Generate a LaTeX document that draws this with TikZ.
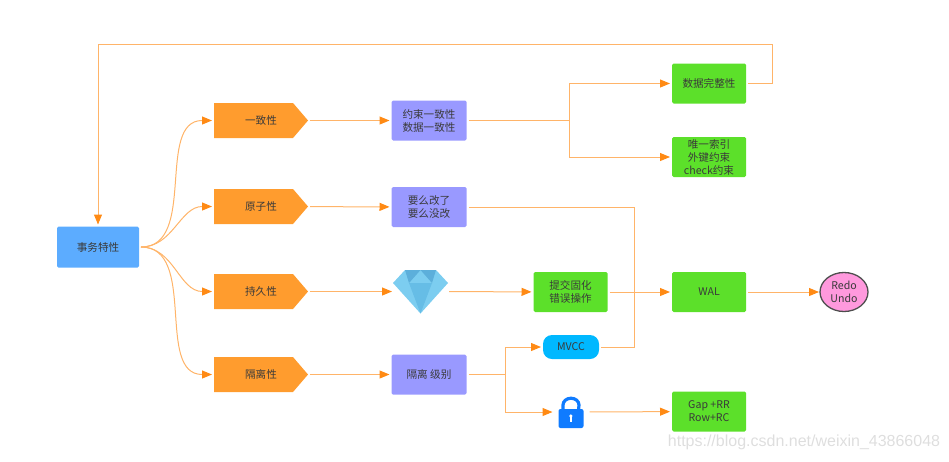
\documentclass[tikz,border=0pt]{standalone}
\usepackage{fontspec}
\setmainfont{Noto Sans CJK SC}
\usetikzlibrary{arrows.meta,shapes.geometric}
\definecolor{linea}{HTML}{FFB469}
\definecolor{punta}{HTML}{FF8A14}
\definecolor{blu}{HTML}{5CACFF}
\definecolor{arancio}{HTML}{FF9C2E}
\definecolor{viola}{HTML}{9999FF}
\definecolor{verde}{HTML}{5CE02A}
\definecolor{ciano}{HTML}{00B8FF}
\definecolor{rosa}{HTML}{FF99DD}
\definecolor{testo}{HTML}{3A3A3A}
\definecolor{gemlight}{HTML}{7CCDF0}
\definecolor{gemmid}{HTML}{66BDE6}
\definecolor{gemdark}{HTML}{5CAFDB}
\definecolor{lockblue}{HTML}{0F7BFF}
\tikzset{
	box/.style={rectangle, rounded corners=1.5pt, fill=#1, text=testo, align=center, font=\fontsize{10.6}{13}\selectfont, inner sep=0pt, outer sep=2pt},
	bluebox/.style={box=blu, minimum width=82pt, minimum height=41pt},
	purplebox/.style={box=viola, minimum width=75pt, minimum height=40pt},
	greenbox/.style={box=verde, minimum width=74pt, minimum height=40pt},
	tagbox/.style={rectangle, text=testo, font=\fontsize{10.6}{13}\selectfont, inner sep=0pt, outer sep=2pt, minimum width=94pt, minimum height=35pt,
		path picture={\fill[arancio] (path picture bounding box.north west) -- ([xshift=-15pt]path picture bounding box.north east) -- (path picture bounding box.east) -- ([xshift=-15pt]path picture bounding box.south east) -- (path picture bounding box.south west) -- cycle;}},
	link/.style={draw=linea, line width=1pt},
	arrow/.style={link, -{Triangle[length=10pt, width=8pt, color=punta]}}
}
\begin{document}
\begin{tikzpicture}[x=1pt, y=-1pt]
	\useasboundingbox (0,0) rectangle (949,461);
	% left column
	\node[bluebox] (acid) at (98,247) {事务特性};
	\node[tagbox] (cons) at (261,120.5) {一致性};
	\node[tagbox] (atom) at (261,206.5) {原子性};
	\node[tagbox] (dura) at (261,291.5) {持久性};
	\node[tagbox] (isol) at (261,374.5) {隔离性};

	% middle column
	\node[purplebox] (rule) at (429,120.5) {约束一致性\\数据一致性};
	\node[purplebox] (undo) at (429,207) {要么改了\\要么没改};
	\node[purplebox] (level) at (429,374.5) {隔离 级别};
	\node[minimum width=55pt, minimum height=43pt, inner sep=0pt, outer sep=1pt] (gem) at (420.5,291.5) {};
	\node[greenbox] (commit) at (570.5,292) {提交固化\\错误操作};
	\node[box=ciano, rounded corners=9pt, minimum width=56pt, minimum height=24pt] (mvcc) at (571,347) {MVCC};
	\node[minimum width=25pt, minimum height=31pt, inner sep=0pt, outer sep=6pt] (lock) at (571,412) {};

	% right column
	\node[greenbox] (whole) at (709,83.5) {数据完整性};
	\node[greenbox] (index) at (709,157) {唯一索引\\外键约束\\check约束};
	\node[greenbox] (wal) at (709,292) {WAL};
	\node[greenbox] (gap) at (709,411.5) {Gap +RR\\Row+RC};
	\node[ellipse, draw=testo!90, line width=1.3pt, fill=rosa, text=testo, align=center, font=\fontsize{10.6}{13}\selectfont, minimum width=48pt, minimum height=39pt, inner sep=0pt, outer sep=1pt] (log) at (844,292) {Redo\\Undo};
	\node[text=black!13, font=\fontsize{16}{18}\selectfont\fontspec{Liberation Sans}] (mark) at (804,442) {https://blog.csdn.net/weixin\_43866048};

	% diamond
	\fill[gemlight] (405,270) -- (436,270) -- (448,283) -- (420.5,313.5) -- (393,283) -- cycle;
	\fill[gemmid] (409,283) -- (432,283) -- (420.5,313.5) -- cycle;
	\fill[gemdark] (405,270) -- (420.5,270) -- (409,283) -- cycle;
	\fill[gemdark] (436,270) -- (420.5,270) -- (432,283) -- cycle;

	% lock
	\fill[lockblue, rounded corners=2pt] (558.5,409) rectangle (583.5,428);
	\draw[lockblue, line width=3.2pt] (563,410) -- (563,405) arc[start angle=180, end angle=0, x radius=8, y radius=-6.8] -- (578.5,410);
	\fill[white] (570.8,416) circle (1.8pt);
	\fill[white] (570,416) rectangle (571.6,422);

	% links from the blue box
	\draw[arrow] (acid.east) to[out=0, in=180] (cons.west);
	\draw[arrow] (acid.east) to[out=0, in=180] (atom.west);
	\draw[arrow] (acid.east) to[out=0, in=180] (dura.west);
	\draw[arrow] (acid.east) to[out=0, in=180] (isol.west);

	% straight links
	\draw[arrow] (cons) -- (rule);
	\draw[arrow] (atom) -- (undo);
	\draw[arrow] (dura) -- (gem);
	\draw[arrow] (isol) -- (level);
	\draw[arrow] (gem) -- (commit);
	\draw[arrow] (commit) -- (wal);
	\draw[arrow] (wal) -- (log);
	\draw[arrow] (lock) -- (gap);

	% elbows
	\coordinate (fork1) at (569,120.5);
	\coordinate (fork2) at (505,374.5);
	\draw[link] (rule) -- (fork1);
	\draw[arrow] (fork1) |- (whole);
	\draw[arrow] (fork1) |- (index);
	\draw[link] (level) -- (fork2);
	\draw[arrow] (fork2) |- (mvcc);
	\draw[arrow] (fork2) |- (lock);
	\coordinate (joint) at (634,207);
	\draw[link] (undo.east) -- (joint) |- (mvcc.east);
	\coordinate (top) at (772,44);
	\draw[arrow] (whole.east) -| (top) -| (acid.north);
\end{tikzpicture}
\end{document}
